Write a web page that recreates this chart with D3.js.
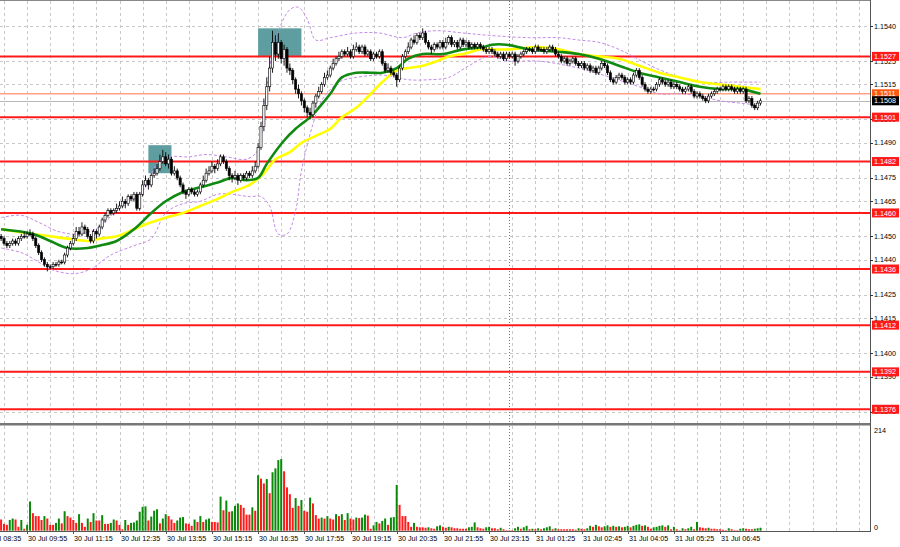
<!DOCTYPE html>
<html><head><meta charset="utf-8">
<script src="https://cdn.jsdelivr.net/npm/d3@7"></script>
<style>body{margin:0;background:#fff}svg{display:block}text{font-family:"Liberation Sans",Arial,sans-serif;font-size:7.2px}</style>
</head><body>
<svg id="c" width="900" height="547"></svg>
<script>
// ---------------- DATA ----------------
const firstBar = 7; // index of first visible 5-minute bar (bar 0 = 30 Jul 08:35)
const opens = [1.1450,
1.1449,1.1447,1.1446,1.1447,1.1448,1.1447,1.1449,1.1450,1.1450,1.1451,
1.1451,1.1449,1.1446,1.1443,1.1440,1.1438,1.1437,1.1437,1.1438,1.1438,
1.1439,1.1439,1.1442,1.1445,1.1447,1.1449,1.1452,1.1451,1.1454,1.1453,
1.1450,1.1448,1.1452,1.1451,1.1454,1.1457,1.1459,1.1461,1.1460,1.1461,
1.1462,1.1463,1.1465,1.1464,1.1467,1.1466,1.1468,1.1462,1.1468,1.1472,
1.1474,1.1472,1.1476,1.1477,1.1479,1.1482,1.1484,1.1481,1.1483,1.1477,
1.1478,1.1475,1.1472,1.1469,1.1468,1.1470,1.1469,1.1468,1.1469,1.1472,
1.1474,1.1477,1.1478,1.1480,1.1479,1.1481,1.1484,1.1482,1.1479,1.1476,
1.1475,1.1476,1.1474,1.1476,1.1475,1.1477,1.1476,1.1478,1.1480,1.1488,
1.1497,1.1506,1.1514,1.1522,1.1533,1.1528,1.1533,1.1526,1.1530,1.1522,
1.1521,1.1517,1.1513,1.1511,1.1508,1.1505,1.1503,1.1502,1.1507,1.1510,
1.1512,1.1515,1.1518,1.1519,1.1522,1.1524,1.1526,1.1527,1.1529,1.1528,
1.1529,1.1527,1.1530,1.1531,1.1529,1.1531,1.1528,1.1529,1.1526,1.1528,
1.1527,1.1529,1.1524,1.1521,1.1522,1.1520,1.1519,1.1517,1.1522,1.1527,
1.1529,1.1531,1.1534,1.1533,1.1536,1.1535,1.1537,1.1533,1.1531,1.1530,
1.1532,1.1531,1.1533,1.1531,1.1533,1.1535,1.1532,1.1533,1.1531,1.1534,
1.1532,1.1533,1.1531,1.1532,1.1531,1.1532,1.1531,1.1530,1.1529,1.1530,
1.1529,1.1528,1.1527,1.1528,1.1526,1.1528,1.1527,1.1528,1.1525,1.1527,
1.1528,1.1529,1.1530,1.1530,1.1529,1.1531,1.1530,1.1530,1.1529,1.1530,
1.1531,1.1530,1.1528,1.1527,1.1525,1.1526,1.1524,1.1525,1.1526,1.1524,
1.1523,1.1524,1.1522,1.1523,1.1521,1.1522,1.1520,1.1522,1.1524,1.1523,
1.1520,1.1517,1.1516,1.1518,1.1519,1.1518,1.1516,1.1517,1.1516,1.1519,
1.1521,1.1518,1.1515,1.1513,1.1512,1.1513,1.1513,1.1515,1.1517,1.1516,
1.1515,1.1516,1.1514,1.1515,1.1514,1.1513,1.1512,1.1513,1.1514,1.1512,
1.1510,1.1511,1.1510,1.1509,1.1508,1.1510,1.1511,1.1512,1.1513,1.1513,
1.1514,1.1513,1.1514,1.1513,1.1512,1.1513,1.1512,1.1513,1.1508,1.1509,
1.1506,1.1505,1.1507];
const highs = [
1.1451,1.1450,1.1448,1.1448,1.1449,1.1449,1.1450,1.1451,1.1452,1.1452,
1.1453,1.1452,1.1450,1.1447,1.1444,1.1441,1.1439,1.1438,1.1439,1.1439,
1.1440,1.1440,1.1443,1.1446,1.1448,1.1451,1.1454,1.1454,1.1456,1.1455,
1.1454,1.1451,1.1453,1.1453,1.1455,1.1458,1.1460,1.1462,1.1462,1.1462,
1.1464,1.1465,1.1467,1.1466,1.1468,1.1468,1.1469,1.1469,1.1469,1.1474,
1.1476,1.1475,1.1477,1.1479,1.1481,1.1485,1.1487,1.1486,1.1485,1.1484,
1.1480,1.1479,1.1476,1.1473,1.1470,1.1471,1.1471,1.1470,1.1470,1.1473,
1.1476,1.1479,1.1480,1.1482,1.1481,1.1483,1.1485,1.1485,1.1483,1.1480,
1.1477,1.1478,1.1477,1.1477,1.1477,1.1478,1.1478,1.1480,1.1482,1.1490,
1.1499,1.1509,1.1518,1.1527,1.1538,1.1536,1.1537,1.1534,1.1532,1.1531,
1.1524,1.1522,1.1518,1.1515,1.1512,1.1509,1.1506,1.1505,1.1508,1.1511,
1.1514,1.1516,1.1520,1.1521,1.1523,1.1526,1.1527,1.1529,1.1530,1.1530,
1.1531,1.1530,1.1532,1.1533,1.1532,1.1532,1.1532,1.1530,1.1530,1.1529,
1.1529,1.1530,1.1530,1.1525,1.1524,1.1523,1.1521,1.1520,1.1523,1.1528,
1.1530,1.1533,1.1535,1.1536,1.1537,1.1537,1.1539,1.1538,1.1534,1.1532,
1.1533,1.1533,1.1534,1.1534,1.1535,1.1536,1.1536,1.1534,1.1534,1.1535,
1.1535,1.1534,1.1534,1.1533,1.1533,1.1533,1.1533,1.1532,1.1531,1.1531,
1.1531,1.1530,1.1529,1.1529,1.1529,1.1529,1.1529,1.1529,1.1529,1.1528,
1.1529,1.1530,1.1531,1.1531,1.1531,1.1532,1.1532,1.1531,1.1531,1.1531,
1.1532,1.1532,1.1531,1.1529,1.1528,1.1527,1.1527,1.1526,1.1527,1.1527,
1.1525,1.1525,1.1525,1.1524,1.1524,1.1523,1.1523,1.1523,1.1525,1.1525,
1.1524,1.1521,1.1518,1.1519,1.1520,1.1520,1.1519,1.1518,1.1518,1.1520,
1.1522,1.1522,1.1519,1.1516,1.1514,1.1514,1.1514,1.1516,1.1518,1.1518,
1.1517,1.1517,1.1517,1.1516,1.1516,1.1515,1.1514,1.1514,1.1515,1.1515,
1.1513,1.1512,1.1512,1.1511,1.1510,1.1511,1.1512,1.1513,1.1514,1.1514,
1.1515,1.1515,1.1515,1.1515,1.1514,1.1514,1.1514,1.1514,1.1514,1.1510,
1.1510,1.1507,1.1508,1.1509];
const lows = [
1.1448,1.1446,1.1445,1.1445,1.1446,1.1446,1.1446,1.1448,1.1449,1.1449,
1.1450,1.1448,1.1445,1.1442,1.1439,1.1437,1.1435,1.1436,1.1436,1.1437,
1.1437,1.1438,1.1438,1.1441,1.1444,1.1446,1.1448,1.1450,1.1450,1.1451,
1.1449,1.1447,1.1447,1.1449,1.1450,1.1453,1.1456,1.1458,1.1459,1.1459,
1.1460,1.1461,1.1462,1.1462,1.1463,1.1465,1.1465,1.1461,1.1461,1.1467,
1.1471,1.1470,1.1471,1.1475,1.1476,1.1478,1.1481,1.1480,1.1479,1.1476,
1.1476,1.1474,1.1471,1.1468,1.1466,1.1467,1.1468,1.1467,1.1467,1.1468,
1.1471,1.1473,1.1476,1.1477,1.1477,1.1478,1.1480,1.1481,1.1478,1.1474,
1.1473,1.1474,1.1472,1.1473,1.1474,1.1474,1.1475,1.1475,1.1477,1.1479,
1.1487,1.1495,1.1504,1.1512,1.1520,1.1525,1.1526,1.1524,1.1523,1.1520,
1.1519,1.1515,1.1511,1.1509,1.1506,1.1503,1.1501,1.1500,1.1501,1.1505,
1.1509,1.1511,1.1514,1.1517,1.1518,1.1521,1.1523,1.1525,1.1526,1.1527,
1.1527,1.1526,1.1526,1.1529,1.1528,1.1528,1.1527,1.1527,1.1525,1.1525,
1.1526,1.1526,1.1523,1.1520,1.1520,1.1519,1.1518,1.1514,1.1516,1.1521,
1.1526,1.1528,1.1530,1.1532,1.1532,1.1534,1.1534,1.1532,1.1530,1.1528,
1.1529,1.1530,1.1530,1.1530,1.1530,1.1532,1.1531,1.1531,1.1530,1.1530,
1.1531,1.1531,1.1530,1.1530,1.1530,1.1530,1.1530,1.1529,1.1528,1.1528,
1.1528,1.1527,1.1526,1.1526,1.1525,1.1525,1.1526,1.1526,1.1523,1.1524,
1.1526,1.1527,1.1528,1.1529,1.1528,1.1528,1.1529,1.1529,1.1528,1.1528,
1.1529,1.1529,1.1527,1.1526,1.1524,1.1524,1.1523,1.1523,1.1524,1.1523,
1.1522,1.1522,1.1521,1.1521,1.1520,1.1520,1.1519,1.1519,1.1521,1.1522,
1.1519,1.1516,1.1515,1.1515,1.1517,1.1517,1.1515,1.1515,1.1515,1.1515,
1.1518,1.1517,1.1514,1.1512,1.1511,1.1511,1.1512,1.1512,1.1514,1.1515,
1.1514,1.1514,1.1513,1.1513,1.1513,1.1512,1.1511,1.1511,1.1512,1.1511,
1.1509,1.1509,1.1509,1.1508,1.1507,1.1507,1.1509,1.1510,1.1511,1.1512,
1.1512,1.1512,1.1512,1.1512,1.1511,1.1511,1.1511,1.1511,1.1507,1.1507,
1.1505,1.1504,1.1504,1.1506];
const closes = [
1.1449,1.1447,1.1446,1.1447,1.1448,1.1447,1.1449,1.1450,1.1450,1.1451,
1.1451,1.1449,1.1446,1.1443,1.1440,1.1438,1.1437,1.1437,1.1438,1.1438,
1.1439,1.1439,1.1442,1.1445,1.1447,1.1449,1.1452,1.1451,1.1454,1.1453,
1.1450,1.1448,1.1452,1.1451,1.1454,1.1457,1.1459,1.1461,1.1460,1.1461,
1.1462,1.1463,1.1465,1.1464,1.1467,1.1466,1.1468,1.1462,1.1468,1.1472,
1.1474,1.1472,1.1476,1.1477,1.1479,1.1482,1.1484,1.1481,1.1483,1.1477,
1.1478,1.1475,1.1472,1.1469,1.1468,1.1470,1.1469,1.1468,1.1469,1.1472,
1.1474,1.1477,1.1478,1.1480,1.1479,1.1481,1.1484,1.1482,1.1479,1.1476,
1.1475,1.1476,1.1474,1.1476,1.1475,1.1477,1.1476,1.1478,1.1480,1.1488,
1.1497,1.1506,1.1514,1.1522,1.1533,1.1528,1.1533,1.1526,1.1530,1.1522,
1.1521,1.1517,1.1513,1.1511,1.1508,1.1505,1.1503,1.1502,1.1507,1.1510,
1.1512,1.1515,1.1518,1.1519,1.1522,1.1524,1.1526,1.1527,1.1529,1.1528,
1.1529,1.1527,1.1530,1.1531,1.1529,1.1531,1.1528,1.1529,1.1526,1.1528,
1.1527,1.1529,1.1524,1.1521,1.1522,1.1520,1.1519,1.1517,1.1522,1.1527,
1.1529,1.1531,1.1534,1.1533,1.1536,1.1535,1.1537,1.1533,1.1531,1.1530,
1.1532,1.1531,1.1533,1.1531,1.1533,1.1535,1.1532,1.1533,1.1531,1.1534,
1.1532,1.1533,1.1531,1.1532,1.1531,1.1532,1.1531,1.1530,1.1529,1.1530,
1.1529,1.1528,1.1527,1.1528,1.1526,1.1528,1.1527,1.1528,1.1525,1.1527,
1.1528,1.1529,1.1530,1.1530,1.1529,1.1531,1.1530,1.1530,1.1529,1.1530,
1.1531,1.1530,1.1528,1.1527,1.1525,1.1526,1.1524,1.1525,1.1526,1.1524,
1.1523,1.1524,1.1522,1.1523,1.1521,1.1522,1.1520,1.1522,1.1524,1.1523,
1.1520,1.1517,1.1516,1.1518,1.1519,1.1518,1.1516,1.1517,1.1516,1.1519,
1.1521,1.1518,1.1515,1.1513,1.1512,1.1513,1.1513,1.1515,1.1517,1.1516,
1.1515,1.1516,1.1514,1.1515,1.1514,1.1513,1.1512,1.1513,1.1514,1.1512,
1.1510,1.1511,1.1510,1.1509,1.1508,1.1510,1.1511,1.1512,1.1513,1.1513,
1.1514,1.1513,1.1514,1.1513,1.1512,1.1513,1.1512,1.1513,1.1508,1.1509,
1.1506,1.1505,1.1507,1.1508];
const volumes = [
23,14,12,22,25,23,8,22,4,12,
60,36,30,30,22,30,25,12,12,16,
25,15,40,30,27,22,16,34,16,8,
25,18,36,21,21,32,14,14,16,23,
21,12,3,22,12,16,17,21,39,49,
50,21,29,41,44,15,25,34,30,23,
16,21,27,28,15,14,10,23,18,30,
18,23,25,18,18,17,70,42,62,39,
40,51,56,53,47,33,33,48,41,114,
107,97,106,77,120,128,145,147,122,89,
75,47,67,51,63,41,39,68,56,32,
25,27,25,30,25,23,34,30,34,22,
36,25,23,27,26,27,33,31,4,11,
18,15,20,25,12,27,28,94,53,30,
30,18,8,16,8,7,7,6,7,5,4,9,11,8,
6,
8,7,5,5,4,4,4,7,8,17,
7,5,4,7,8,5,5,3,6,3,
1,1,1,5,8,4,7,10,3,4,
3,5,3,5,7,9,3,5,3,3,
3,3,3,3,2,5,4,3,5,10,
8,12,9,7,9,11,8,10,8,9,
7,8,10,7,10,12,13,10,11,8,
4,7,8,10,11,8,11,3,8,3,
1,5,3,5,8,3,18,7,6,5,
6,4,4,3,3,2,1,5,3,1,
1,4,5,4,3,3,4,5,6];
const timeLabels = ["30 Jul 08:35","30 Jul 09:55","30 Jul 11:15","30 Jul 12:35","30 Jul 13:55","30 Jul 15:15",
"30 Jul 16:35","30 Jul 17:55","30 Jul 19:15","30 Jul 20:35","30 Jul 21:55","30 Jul 23:15",
"31 Jul 01:25","31 Jul 02:45","31 Jul 04:05","31 Jul 05:25","31 Jul 06:45"];
const barsPerLabel = 16, barsPerGrid = 8, daySeparatorBar = 183;
const priceTicks = [1.1540,1.1525,1.1515,1.1500,1.1490,1.1475,1.1465,1.1450,1.1440,1.1425,1.1415,1.1400,1.1390,1.1375];
const levels = [1.1527,1.1501,1.1482,1.1460,1.1436,1.1412,1.1392,1.1376];
const askLine = 1.1511, bidLine = 1.1508;
const volumeMax = 214;
const zoneBars = [[58,66],[96,111]];
const zonePrices = [[1.1489,1.1477],[1.1539,1.1527]];
const maGreen = [[7,1.1453],[18,1.1451],[24,1.1448],[30,1.1445],[37,1.1445],[41,1.1446],[47,1.1448],[53,1.1453],[59,1.1460],[64,1.1465],[70,1.1469],[76,1.1471],[82,1.1473],[87,1.1475],[92,1.1474],[96,1.1475],[99,1.1481],[105,1.1491],[109,1.1496],[114,1.1501],[117,1.1505],[121,1.1511],[125,1.1518],[130,1.1520],[135,1.1520],[139,1.1520],[144,1.1522],[148,1.1526],[153,1.1528],[160,1.1528],[167,1.1530],[174,1.1531],[177,1.1532],[182,1.1532],[190,1.1530],[200,1.1529],[207,1.1528],[214,1.1526],[221,1.1523],[228,1.1520],[235,1.1518],[242,1.1516],[249,1.1514],[256,1.1513],[263,1.1513],[270,1.1511]];
const maYellow = [[7,1.1453],[18,1.1451],[24,1.1450],[30,1.1449],[37,1.1448],[41,1.1449],[47,1.1450],[53,1.1453],[59,1.1456],[64,1.1458],[70,1.1460],[76,1.1463],[82,1.1466],[87,1.1469],[93,1.1472],[98,1.1477],[102,1.1483],[107,1.1486],[111,1.1490],[116,1.1493],[121,1.1496],[125,1.1501],[130,1.1505],[135,1.1511],[139,1.1516],[144,1.1521],[148,1.1522],[153,1.1523],[158,1.1525],[162,1.1527],[167,1.1528],[173,1.1530],[177,1.1530],[183,1.1530],[193,1.1531],[200,1.1530],[207,1.1528],[214,1.1527],[221,1.1526],[228,1.1523],[235,1.1520],[242,1.1518],[249,1.1516],[256,1.1515],[263,1.1514],[270,1.1513]];
const bbUpper = [[7,1.1458],[14,1.1459],[20,1.1456],[27,1.1452],[34,1.1451],[41,1.1454],[47,1.1461],[53,1.1466],[57,1.1471],[61,1.1481],[65,1.1484],[72,1.1484],[78,1.1485],[85,1.1484],[92,1.1483],[96,1.1487],[98,1.1504],[102,1.1534],[107,1.1547],[110,1.1548],[113,1.1543],[116,1.1534],[121,1.1535],[130,1.1537],[138,1.1537],[146,1.1535],[151,1.1537],[158,1.1538],[167,1.1537],[176,1.1536],[190,1.1535],[200,1.1535],[207,1.1534],[214,1.1533],[221,1.1530],[232,1.1523],[242,1.1518],[249,1.1516],[260,1.1516],[270,1.1516]];
const bbLower = [[7,1.1445],[14,1.1443],[20,1.1439],[24,1.1436],[32,1.1434],[38,1.1436],[45,1.1442],[53,1.1446],[59,1.1449],[64,1.1460],[70,1.1464],[76,1.1465],[82,1.1468],[87,1.1468],[93,1.1467],[97,1.1467],[100,1.1463],[103,1.1451],[106,1.1451],[109,1.1461],[111,1.1478],[115,1.1498],[118,1.1508],[124,1.1516],[130,1.1518],[139,1.1519],[144,1.1518],[148,1.1517],[155,1.1517],[162,1.1518],[169,1.1523],[176,1.1527],[183,1.1525],[193,1.1525],[207,1.1522],[218,1.1518],[228,1.1514],[235,1.1511],[242,1.1511],[249,1.1510],[256,1.1508],[263,1.1507],[270,1.1506]];

// ---------------- LAYOUT ----------------
const W = 900, H = 547, plotR = 870, mainTop = 1, mainBot = 423, volTop = 426, volBot = 531;
const svg = d3.select("#c");
const x = d3.scaleLinear().domain([0, 16]).range([-19.1, 27.1]);
const y = d3.scaleLinear().domain([1.1375, 1.1540]).range([411.6, 26]);
const yv = d3.scaleLinear().domain([0, volumeMax]).range([530.7, 426.5]);

svg.append("rect").attr("width", W).attr("height", H).attr("fill", "#fff");
const defs = svg.append("defs");
defs.append("clipPath").attr("id", "cm").append("rect").attr("x", 0).attr("y", mainTop).attr("width", plotR).attr("height", mainBot - mainTop);
defs.append("clipPath").attr("id", "cv").append("rect").attr("x", 0).attr("y", volTop).attr("width", plotR).attr("height", volBot - volTop);

const nGrid = Math.floor(x.invert(plotR) / barsPerGrid);
const gridIdx = d3.range(0, nGrid + 1).map(k => k * barsPerGrid);
const gridStyle = s => s.attr("stroke", "#c8c8c8").attr("stroke-width", 1).attr("stroke-dasharray", "3,3");

// main panel
const gm = svg.append("g").attr("clip-path", "url(#cm)");
gm.selectAll("line.vg").data(gridIdx).join("line").attr("class", "vg")
  .attr("x1", d => Math.round(x(d)) + 0.5).attr("x2", d => Math.round(x(d)) + 0.5)
  .attr("y1", mainTop).attr("y2", mainBot).call(gridStyle);
gm.selectAll("line.hg").data(priceTicks).join("line").attr("class", "hg")
  .attr("x1", 0).attr("x2", plotR).attr("y1", d => Math.round(y(d)) + 0.5).attr("y2", d => Math.round(y(d)) + 0.5).call(gridStyle);
gm.append("line").attr("x1", Math.round(x(daySeparatorBar)) + 0.5).attr("x2", Math.round(x(daySeparatorBar)) + 0.5)
  .attr("y1", mainTop).attr("y2", mainBot).attr("stroke", "#777").attr("stroke-dasharray", "1,2");

// zones
gm.selectAll("rect.zone").data(zoneBars).join("rect").attr("class", "zone")
  .attr("x", (d) => x(d[0])).attr("width", d => x(d[1]) - x(d[0]))
  .attr("y", (d, i) => y(zonePrices[i][0])).attr("height", (d, i) => y(zonePrices[i][1]) - y(zonePrices[i][0]))
  .attr("fill", "#5f9ea0");

// level lines
gm.selectAll("line.lv").data(levels).join("line").attr("class", "lv")
  .attr("x1", 0).attr("x2", plotR).attr("y1", d => y(d)).attr("y2", d => y(d))
  .attr("stroke", "#ff1a1a").attr("stroke-width", 2);
gm.append("line").attr("x1", 0).attr("x2", plotR).attr("y1", y(askLine)).attr("y2", y(askLine)).attr("stroke", "#ffa080").attr("stroke-width", 1.5);
gm.append("line").attr("x1", 0).attr("x2", plotR).attr("y1", Math.round(y(bidLine)) + 0.5).attr("y2", Math.round(y(bidLine)) + 0.5).attr("stroke", "#b8b8b8").attr("stroke-width", 1);

// indicators
const line = d3.line().x(d => x(d[0])).y(d => y(d[1])).curve(d3.curveCatmullRom.alpha(0.5));
[bbUpper, bbLower].forEach(b => gm.append("path").attr("d", line(b)).attr("fill", "none")
  .attr("stroke", "#c48be8").attr("stroke-width", 1).attr("stroke-dasharray", "3,2"));
gm.append("path").attr("d", line(maYellow)).attr("fill", "none").attr("stroke", "#ffff00").attr("stroke-width", 2.6);
gm.append("path").attr("d", line(maGreen)).attr("fill", "none").attr("stroke", "#118a11").attr("stroke-width", 2.6);

// candles
const bars = closes.map((c, k) => ({ i: firstBar + k, o: opens[k], h: highs[k], l: lows[k], c }));
const cg = gm.append("g");
cg.selectAll("line.wick").data(bars).join("line").attr("class", "wick")
  .attr("x1", d => x(d.i)).attr("x2", d => x(d.i)).attr("y1", d => y(d.h)).attr("y2", d => y(d.l))
  .attr("stroke", "#000").attr("stroke-width", 0.9);
cg.selectAll("rect.body").data(bars).join("rect").attr("class", "body")
  .attr("x", d => x(d.i) - 1.1).attr("width", 2.2)
  .attr("y", d => y(Math.max(d.o, d.c))).attr("height", d => Math.max(0.8, Math.abs(y(d.o) - y(d.c))))
  .attr("fill", d => d.c > d.o ? "#fff" : "#000").attr("stroke", "#000").attr("stroke-width", 0.6);

// volume panel
const gv = svg.append("g").attr("clip-path", "url(#cv)");
gv.selectAll("line.vg").data(gridIdx).join("line").attr("class", "vg")
  .attr("x1", d => Math.round(x(d)) + 0.5).attr("x2", d => Math.round(x(d)) + 0.5)
  .attr("y1", volTop).attr("y2", volBot).call(gridStyle);
gv.append("line").attr("x1", Math.round(x(daySeparatorBar)) + 0.5).attr("x2", Math.round(x(daySeparatorBar)) + 0.5)
  .attr("y1", volTop).attr("y2", volBot).attr("stroke", "#777").attr("stroke-dasharray", "1,2");
gv.selectAll("rect.vol").data(volumes).join("rect").attr("class", "vol")
  .attr("x", (d, k) => x(firstBar + k) - 1).attr("width", 2)
  .attr("y", d => yv(d)).attr("height", d => yv(0) - yv(d))
  .attr("fill", (d, k) => k > 0 && d > volumes[k - 1] ? "#0a8a0a" : "#ff1a1a");

// frames
svg.append("line").attr("x1", 0).attr("x2", plotR).attr("y1", 0.5).attr("y2", 0.5).attr("stroke", "#888");
svg.append("rect").attr("x", 0).attr("y", mainBot).attr("width", plotR + 1).attr("height", 2.5).attr("fill", "#777");
svg.append("line").attr("x1", plotR + 0.5).attr("x2", plotR + 0.5).attr("y1", 0).attr("y2", volBot + 1).attr("stroke", "#555");
svg.append("line").attr("x1", 0).attr("x2", plotR + 1).attr("y1", volBot + 0.5).attr("y2", volBot + 0.5).attr("stroke", "#555");

// price axis labels
const pa = svg.append("g");
pa.selectAll("line.pt").data(priceTicks).join("line").attr("class", "pt")
  .attr("x1", plotR).attr("x2", plotR + 3).attr("y1", d => Math.round(y(d)) + 0.5).attr("y2", d => Math.round(y(d)) + 0.5).attr("stroke", "#333");
pa.selectAll("text.pt").data(priceTicks).join("text").attr("class", "pt")
  .attr("x", plotR + 4).attr("y", d => y(d)).attr("dy", "0.36em").attr("fill", "#000").text(d => d.toFixed(4));
const tag = (v, bg) => {
  pa.append("rect").attr("x", plotR + 2).attr("y", y(v) - 4.5).attr("width", 27).attr("height", 9).attr("fill", bg);
  pa.append("text").attr("x", plotR + 4).attr("y", y(v)).attr("dy", "0.36em").attr("fill", "#fff").text(v.toFixed(4));
};
levels.forEach(v => tag(v, "#ff1a1a"));
tag(askLine, "#ff5a14");
tag(bidLine, "#000");

// volume axis labels
pa.append("text").attr("x", plotR + 4).attr("y", 430.7).attr("dy", "0.36em").text(volumeMax);
pa.append("text").attr("x", plotR + 4).attr("y", 527).attr("dy", "0.36em").text(0);

// time labels
svg.selectAll("text.tl").data(timeLabels).join("text").attr("class", "tl")
  .attr("x", (d, k) => Math.round(x(k * barsPerLabel)) + 1).attr("y", 540.6).attr("fill", "#000").text(d => d);
svg.selectAll("line.tt").data(timeLabels).join("line").attr("class", "tt")
  .attr("x1", (d, k) => Math.round(x(k * barsPerLabel)) + 0.5).attr("x2", (d, k) => Math.round(x(k * barsPerLabel)) + 0.5)
  .attr("y1", volBot).attr("y2", volBot + 3).attr("stroke", "#555");
</script>
</body></html>
